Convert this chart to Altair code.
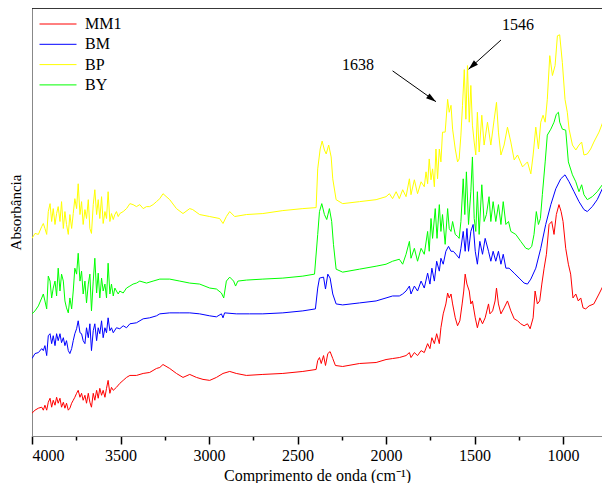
import altair as alt
import pandas as pd

series_names = ["MM1", "BM", "BP", "BY"]
series_colors = ["#ff0000", "#0000ff", "#ffff00", "#00ff00"]

# ---------------- BP (yellow) ----------------
wn_bp = [4000, 3983, 3964, 3945, 3936, 3927, 3917, 3908, 3898, 3889, 3880, 3870, 3861, 3852, 3842, 3833,
         3823, 3814, 3805, 3795, 3786, 3776, 3767, 3758, 3748, 3739, 3729, 3720, 3711, 3701, 3692, 3682,
         3673, 3664, 3654, 3645, 3635, 3626, 3617, 3607, 3598, 3588, 3579, 3570, 3560, 3551, 3541, 3532,
         3523, 3513, 3504, 3485, 3466, 3447, 3429, 3410, 3391, 3372, 3353, 3335, 3316, 3297, 3278, 3260,
         3222, 3184, 3147, 3109, 3092, 3053, 2996, 2940, 2921, 2902, 2883, 2855, 2789, 2696, 2583, 2470,
         2395, 2386, 2372, 2361, 2348, 2338, 2324, 2310, 2301, 2282, 2245, 2150, 2056, 2000, 1981, 1963,
         1943, 1925, 1906, 1887, 1868, 1859, 1840, 1822, 1802, 1784, 1774, 1765, 1756, 1746, 1737, 1727,
         1718, 1709, 1699, 1690, 1681, 1666, 1652, 1643, 1633, 1624, 1609, 1596, 1587, 1577, 1568, 1558,
         1549, 1540, 1530, 1521, 1512, 1502, 1493, 1484, 1474, 1459, 1446, 1427, 1408, 1389, 1376, 1365,
         1351, 1333, 1314, 1295, 1276, 1257, 1229, 1201, 1182, 1169, 1154, 1139, 1126, 1113, 1101, 1089,
         1075, 1060, 1045, 1032, 1019, 1004, 989, 976, 966, 947, 928, 910, 895, 882, 863, 844, 826, 797,
         769, 741]
abs_bp = [1.99, 2.04, 2.03, 2.11, 2.14, 2.09, 2.03, 2.26, 2.34, 2.16, 2.29, 2.13, 2.24, 2.31, 2.16, 2.36,
          2.09, 2.26, 2.13, 2.03, 2.23, 2.09, 2.24, 2.39, 2.29, 2.54, 2.23, 2.36, 2.13, 2.28, 2.19, 2.38,
          2.09, 2.04, 2.33, 2.48, 2.23, 2.38, 2.19, 2.41, 2.14, 2.26, 2.19, 2.46, 2.16, 2.24, 2.18, 2.23,
          2.26, 2.21, 2.24, 2.26, 2.29, 2.34, 2.33, 2.31, 2.33, 2.29, 2.31, 2.31, 2.33, 2.36, 2.39, 2.44,
          2.38, 2.29, 2.24, 2.29, 2.28, 2.23, 2.21, 2.19, 2.14, 2.21, 2.26, 2.21, 2.23, 2.24, 2.27, 2.29,
          2.30, 2.69, 2.89, 2.97, 2.88, 2.84, 2.93, 2.81, 2.59, 2.38, 2.34, 2.36, 2.38, 2.41, 2.44, 2.39,
          2.46, 2.39, 2.48, 2.41, 2.59, 2.43, 2.58, 2.44, 2.56, 2.51, 2.66, 2.54, 2.79, 2.58, 2.69, 2.51,
          2.89, 2.59, 2.89, 2.76, 3.06, 3.06, 3.39, 3.26, 3.33, 3.09, 2.89, 2.76, 2.79, 3.03, 3.33, 3.69,
          3.19, 3.73, 3.16, 3.53, 3.13, 2.96, 2.83, 3.26, 2.86, 3.23, 2.93, 3.16, 2.93, 3.19, 3.36, 3.06,
          2.83, 2.93, 3.11, 2.96, 2.78, 2.83, 2.71, 2.76, 2.64, 2.83, 3.11, 2.89, 3.16, 3.23, 3.16, 3.39,
          3.83, 3.63, 3.73, 4.03, 4.04, 3.76, 3.39, 3.26, 3.09, 2.93, 2.88, 2.93, 2.96, 2.83, 2.84, 2.89,
          2.96, 3.06, 3.19, 3.33]

# ---------------- BY (green) ----------------
wn_by = [4000, 3983, 3964, 3945, 3936, 3927, 3917, 3908, 3898, 3889, 3880, 3870, 3861, 3852, 3842, 3833,
         3823, 3814, 3805, 3795, 3786, 3776, 3767, 3758, 3748, 3739, 3729, 3720, 3711, 3701, 3692, 3682,
         3673, 3664, 3654, 3645, 3635, 3626, 3617, 3607, 3598, 3588, 3579, 3570, 3560, 3551, 3541, 3532,
         3523, 3513, 3504, 3485, 3466, 3447, 3429, 3410, 3391, 3353, 3316, 3278, 3222, 3165, 3109, 3053,
         2996, 2958, 2930, 2917, 2902, 2883, 2861, 2850, 2837, 2789, 2696, 2583, 2470, 2404, 2386, 2376,
         2363, 2348, 2335, 2320, 2307, 2297, 2282, 2245, 2150, 2056, 2000, 1963, 1925, 1906, 1887, 1868,
         1859, 1840, 1822, 1802, 1784, 1765, 1756, 1746, 1737, 1722, 1712, 1699, 1690, 1681, 1666, 1652,
         1643, 1633, 1624, 1609, 1596, 1587, 1577, 1564, 1555, 1546, 1534, 1521, 1512, 1502, 1493, 1484,
         1474, 1459, 1446, 1433, 1418, 1408, 1395, 1380, 1365, 1351, 1338, 1323, 1308, 1295, 1267, 1239,
         1210, 1192, 1177, 1164, 1151, 1139, 1128, 1117, 1101, 1089, 1069, 1051, 1038, 1026, 1019, 1004,
         985, 970, 947, 928, 910, 895, 882, 863, 835, 807, 778, 741]
abs_by = [1.23, 1.26, 1.31, 1.39, 1.43, 1.36, 1.28, 1.61, 1.56, 1.39, 1.49, 1.56, 1.41, 1.69, 1.46, 1.63,
          1.56, 1.36, 1.29, 1.24, 1.39, 1.28, 1.46, 1.69, 1.63, 1.84, 1.56, 1.66, 1.43, 1.56, 1.34, 1.53,
          1.63, 1.26, 1.56, 1.79, 1.44, 1.64, 1.39, 1.59, 1.46, 1.53, 1.39, 1.74, 1.43, 1.53, 1.41, 1.49,
          1.46, 1.43, 1.46, 1.44, 1.49, 1.51, 1.53, 1.54, 1.56, 1.54, 1.56, 1.58, 1.58, 1.56, 1.54, 1.53,
          1.49, 1.48, 1.44, 1.39, 1.56, 1.60, 1.56, 1.51, 1.56, 1.57, 1.58, 1.59, 1.61, 1.63, 2.03, 2.26,
          2.34, 2.23, 2.18, 2.29, 2.16, 1.93, 1.68, 1.65, 1.68, 1.71, 1.73, 1.76, 1.78, 1.73, 1.83, 1.96,
          1.79, 1.89, 1.76, 1.89, 1.83, 2.06, 1.86, 2.19, 1.99, 2.29, 1.99, 2.33, 2.06, 2.23, 1.93, 2.29,
          2.09, 2.06, 2.16, 2.03, 2.01, 1.99, 2.16, 2.59, 2.23, 2.66, 2.13, 2.46, 2.81, 2.19, 2.06, 2.46,
          2.03, 2.53, 2.16, 2.23, 2.41, 2.16, 2.36, 2.16, 2.33, 2.13, 2.36, 2.13, 2.16, 2.06, 2.03, 1.96,
          1.89, 1.88, 1.91, 2.03, 2.26, 2.13, 2.19, 2.43, 2.76, 3.03, 3.09, 3.16, 3.24, 3.26, 3.16, 3.09,
          3.08, 2.76, 2.63, 2.56, 2.46, 2.53, 2.43, 2.38, 2.41, 2.46, 2.53, 2.62]

# ---------------- BM (blue) ----------------
wn_bm = [4000, 3983, 3964, 3945, 3936, 3927, 3917, 3908, 3898, 3889, 3880, 3870, 3861, 3852, 3842, 3833,
         3823, 3814, 3805, 3795, 3786, 3776, 3767, 3758, 3748, 3739, 3729, 3720, 3711, 3701, 3692, 3682,
         3673, 3664, 3654, 3645, 3635, 3626, 3617, 3607, 3598, 3588, 3579, 3570, 3560, 3551, 3541, 3523,
         3504, 3485, 3466, 3447, 3410, 3372, 3335, 3297, 3278, 3222, 3165, 3109, 3053, 2996, 2958, 2930,
         2921, 2912, 2846, 2771, 2696, 2583, 2470, 2399, 2386, 2376, 2353, 2342, 2329, 2316, 2301, 2282,
         2245, 2150, 2056, 2000, 1963, 1925, 1906, 1887, 1868, 1859, 1840, 1822, 1802, 1784, 1765, 1752,
         1741, 1727, 1714, 1699, 1690, 1677, 1662, 1647, 1633, 1620, 1605, 1587, 1577, 1564, 1553, 1543,
         1534, 1521, 1508, 1496, 1484, 1470, 1455, 1440, 1421, 1408, 1395, 1380, 1365, 1351, 1338, 1323,
         1305, 1276, 1248, 1220, 1201, 1182, 1154, 1126, 1098, 1069, 1041, 1013, 989, 966, 938, 910, 882,
         863, 835, 807, 778, 759, 741]
abs_bm = [0.78, 0.83, 0.84, 0.88, 0.86, 0.91, 0.81, 1.01, 1.03, 0.93, 1.01, 0.91, 1.03, 0.96, 1.03, 0.94,
          0.99, 0.91, 0.96, 0.86, 0.83, 0.88, 0.96, 1.03, 1.08, 1.16, 1.04, 1.03, 0.96, 0.93, 1.09, 0.99,
          1.13, 0.86, 1.06, 1.13, 0.96, 1.09, 1.03, 1.16, 0.99, 1.09, 1.04, 1.19, 1.06, 1.09, 1.04, 1.09,
          1.08, 1.11, 1.09, 1.13, 1.14, 1.18, 1.19, 1.21, 1.23, 1.24, 1.24, 1.24, 1.23, 1.21, 1.20, 1.23,
          1.19, 1.24, 1.23, 1.23, 1.23, 1.24, 1.26, 1.28, 1.49, 1.59, 1.60, 1.48, 1.63, 1.59, 1.43, 1.33,
          1.32, 1.34, 1.36, 1.39, 1.41, 1.41, 1.43, 1.46, 1.51, 1.43, 1.51, 1.46, 1.56, 1.49, 1.64, 1.53,
          1.69, 1.56, 1.76, 1.66, 1.79, 1.73, 1.86, 1.91, 1.86, 1.86, 1.83, 1.79, 1.89, 2.06, 1.86, 2.09,
          1.86, 2.06, 2.13, 1.86, 1.73, 1.96, 1.83, 1.99, 1.86, 1.76, 1.86, 1.76, 1.86, 1.73, 1.83, 1.69,
          1.69, 1.64, 1.59, 1.54, 1.53, 1.58, 1.69, 1.89, 2.13, 2.33, 2.49, 2.59, 2.63, 2.56, 2.46, 2.36,
          2.28, 2.26, 2.31, 2.38, 2.49, 2.63, 2.85]

# ---------------- MM1 (red) ----------------
wn_mm1 = [4000, 3983, 3964, 3945, 3936, 3927, 3917, 3908, 3898, 3889, 3880, 3870, 3861, 3852, 3842, 3833,
          3823, 3814, 3805, 3795, 3786, 3776, 3767, 3758, 3748, 3739, 3729, 3720, 3711, 3701, 3692, 3682,
          3673, 3664, 3654, 3645, 3635, 3626, 3617, 3607, 3598, 3588, 3579, 3570, 3560, 3551, 3541, 3523,
          3504, 3485, 3466, 3447, 3410, 3372, 3335, 3297, 3278, 3260, 3222, 3184, 3147, 3109, 3071, 3034,
          2996, 2958, 2921, 2883, 2846, 2789, 2696, 2583, 2470, 2395, 2386, 2376, 2366, 2353, 2342, 2329,
          2316, 2301, 2286, 2245, 2150, 2056, 2000, 1963, 1925, 1887, 1868, 1859, 1840, 1822, 1802, 1784,
          1765, 1752, 1741, 1727, 1714, 1699, 1690, 1677, 1662, 1652, 1643, 1633, 1624, 1609, 1596, 1583,
          1570, 1561, 1553, 1543, 1530, 1521, 1512, 1496, 1484, 1470, 1455, 1440, 1421, 1413, 1398, 1384,
          1376, 1365, 1351, 1333, 1314, 1295, 1276, 1257, 1239, 1220, 1201, 1186, 1169, 1158, 1145, 1132,
          1120, 1107, 1094, 1079, 1064, 1051, 1038, 1023, 1011, 1000, 985, 970, 957, 944, 928, 914, 900,
          887, 872, 853, 826, 797, 769, 741]
abs_mm1 = [0.23, 0.26, 0.28, 0.29, 0.26, 0.31, 0.26, 0.34, 0.38, 0.29, 0.36, 0.31, 0.39, 0.33, 0.38, 0.29,
           0.34, 0.28, 0.33, 0.26, 0.28, 0.33, 0.36, 0.39, 0.43, 0.46, 0.39, 0.43, 0.36, 0.41, 0.33, 0.43,
           0.34, 0.29, 0.43, 0.36, 0.46, 0.38, 0.48, 0.41, 0.46, 0.39, 0.48, 0.56, 0.43, 0.49, 0.46, 0.49,
           0.53, 0.56, 0.59, 0.61, 0.61, 0.63, 0.64, 0.68, 0.69, 0.72, 0.68, 0.63, 0.59, 0.62, 0.59, 0.57,
           0.56, 0.59, 0.63, 0.65, 0.63, 0.61, 0.62, 0.63, 0.65, 0.67, 0.76, 0.79, 0.73, 0.81, 0.71, 0.83,
           0.85, 0.78, 0.71, 0.70, 0.73, 0.74, 0.77, 0.78, 0.79, 0.81, 0.84, 0.79, 0.84, 0.81, 0.86, 0.84,
           0.93, 0.88, 0.99, 0.93, 1.03, 0.93, 1.09, 1.23, 1.33, 1.44, 1.39, 1.43, 1.33, 1.19, 1.11, 1.16,
           1.33, 1.46, 1.63, 1.53, 1.46, 1.33, 1.36, 1.19, 1.09, 1.19, 1.13, 1.19, 1.33, 1.23, 1.26, 1.36,
           1.49, 1.33, 1.23, 1.29, 1.36, 1.26, 1.18, 1.16, 1.13, 1.11, 1.13, 1.08, 1.19, 1.46, 1.33, 1.36,
           1.53, 1.69, 1.83, 2.13, 2.16, 2.03, 2.23, 2.33, 2.26, 2.16, 1.89, 1.73, 1.63, 1.39, 1.43, 1.36,
           1.39, 1.29, 1.28, 1.31, 1.33, 1.43, 1.53, 1.63]

# annotations
ann_labels = ["1638", "1546"]
ann_text_wn = [2159, 1254]
ann_text_abs = [3.735, 4.135]
arrow_from_wn = [1963, 1351]
arrow_from_abs = [3.677, 3.987]
arrow_to_wn = [1718, 1534]
arrow_to_abs = [3.367, 3.693]
arrow_angle = [125.5, 227.8]

x_ticks = [4000, 3750, 3500, 3250, 3000, 2750, 2500, 2250, 2000, 1750, 1500, 1250, 1000]

FONT = "Liberation Serif"
W, H = 570, 428

rows = []
for name, wns, vals in [("MM1", wn_mm1, abs_mm1), ("BM", wn_bm, abs_bm),
                        ("BP", wn_bp, abs_bp), ("BY", wn_by, abs_by)]:
    for w, v in zip(wns, vals):
        rows.append({"series": name, "wn": w, "a": v})
spectra = pd.DataFrame(rows)

xscale = alt.Scale(domain=[4000, 780], nice=False, zero=False)
yscale = alt.Scale(domain=[0, 4.31], nice=False, zero=False)

lines = alt.Chart(spectra).mark_line(strokeWidth=1, clip=True).encode(
    x=alt.X("wn:Q", scale=xscale,
            axis=alt.Axis(values=x_ticks, format="d", grid=False,
                          labelExpr="datum.value % 500 == 0 ? datum.label : ''",
                          tickSize={"condition": {"test": "datum.value % 500 == 0", "value": 8}, "value": 4},
                          tickWidth=1.5, tickColor="black",
                          labelFontSize=16, labelPadding=3, labelFont=FONT, labelColor="black",
                          titleFontSize=16, titleFont=FONT, titleFontWeight="normal", titleColor="black",
                          titleBaseline="alphabetic", titleY=44),
            title="Comprimento de onda (cm⁻¹)"),
    y=alt.Y("a:Q", scale=yscale,
            axis=alt.Axis(ticks=False, labels=False, grid=False,
                          titleFontSize=15, titleFont=FONT, titleFontWeight="normal", titleColor="black",
                          titlePadding=9, titleY=204),
            title="Absorbância"),
    color=alt.Color("series:N", scale=alt.Scale(domain=series_names, range=series_colors),
                    legend=alt.Legend(title=None, orient="none", legendX=7, legendY=7,
                                      symbolType="stroke", symbolSize=1369, symbolStrokeWidth=1,
                                      labelFont=FONT, labelFontSize=16, labelColor="black",
                                      labelOffset=8, clipHeight=18, rowPadding=2.3, padding=0)),
    order=alt.Order("wn:Q"),
)

ann_df = pd.DataFrame({"label": ann_labels, "wn": ann_text_wn, "a": ann_text_abs})
arr_df = pd.DataFrame({"wn": arrow_from_wn, "a": arrow_from_abs,
                       "wn2": arrow_to_wn, "a2": arrow_to_abs, "ang": arrow_angle})

texts = alt.Chart(ann_df).mark_text(font=FONT, fontSize=16, color="black").encode(
    x=alt.X("wn:Q", scale=xscale), y=alt.Y("a:Q", scale=yscale), text="label:N")

shafts = alt.Chart(arr_df).mark_rule(color="black", strokeWidth=1).encode(
    x=alt.X("wn:Q", scale=xscale), y=alt.Y("a:Q", scale=yscale),
    x2="wn2:Q", y2="a2:Q")

heads = alt.Chart(arr_df).mark_point(shape="M0,0L-0.3,1L0.3,1Z", filled=True, color="black",
                                      opacity=1, size=400, strokeWidth=0).encode(
    x=alt.X("wn2:Q", scale=xscale), y=alt.Y("a2:Q", scale=yscale),
    angle=alt.Angle("ang:Q", scale=None))

border = alt.Chart(pd.DataFrame({"k": [0]})).mark_rule(color="black", strokeWidth=1.5).encode(
    x=alt.value(0), x2=alt.value(W), y=alt.value(0))

chart = alt.layer(lines, shafts, heads, texts, border).properties(
    width=W, height=H,
    autosize=alt.AutoSizeParams(type="none"),
    padding={"left": 24, "top": 0, "right": 0, "bottom": 47},
).configure_view(stroke=None).configure_axis(
    domainColor="black", domainWidth=1.5, grid=False,
    labelFont=FONT, titleFont=FONT, labelColor="black", titleColor="black",
    titleFontWeight="normal",
).configure(font=FONT)

chart.save("out.html", embed_options={"renderer": "svg", "actions": False})
